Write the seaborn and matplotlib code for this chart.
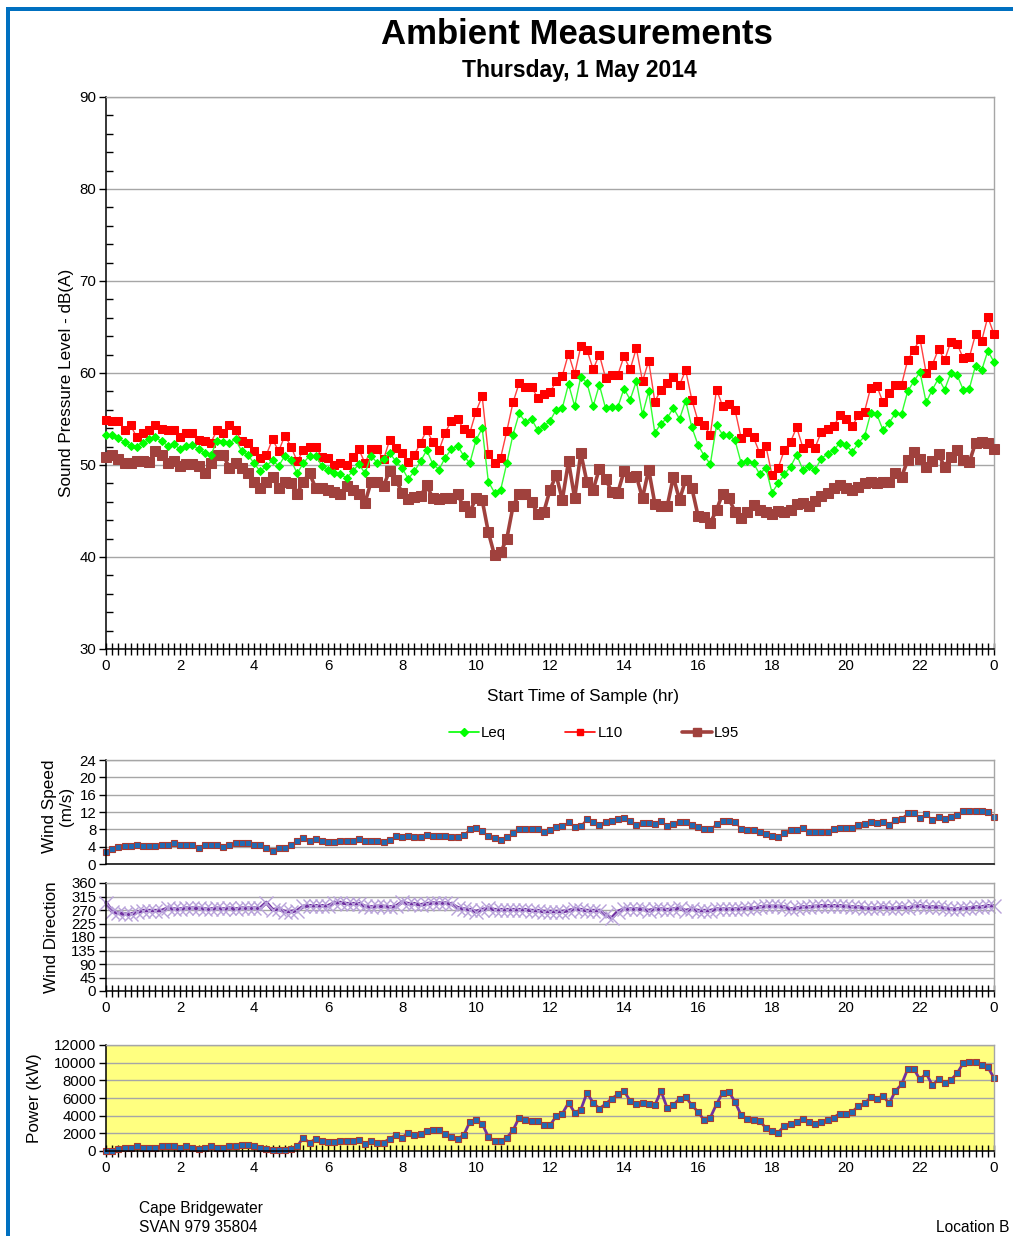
import numpy as np
import pandas as pd
import seaborn as sns
import matplotlib
matplotlib.use("Agg")
import matplotlib.pyplot as plt
from matplotlib.patches import Rectangle
from matplotlib.lines import Line2D
from matplotlib.ticker import FixedLocator, MultipleLocator

sns.set_theme(style="white")
plt.rcParams["font.family"] = ["Liberation Sans", "DejaVu Sans"]
plt.rcParams["text.color"] = "black"
plt.rcParams["axes.labelcolor"] = "black"
plt.rcParams["xtick.color"] = "black"
plt.rcParams["ytick.color"] = "black"

# ---------------- data (10-minute samples, 0:00 .. 24:00) ----------------
hours = np.arange(145) / 6.0
x_tick_pos = list(range(0, 25, 2))
x_tick_labels = ["0", "2", "4", "6", "8", "10", "12", "14", "16", "18", "20", "22", "0"]

leq = [53.3, 53.3, 52.9, 52.5, 52.1, 52.0, 52.4, 52.8, 53.0, 52.6,
       52.1, 52.3, 51.7, 52.1, 52.2, 51.7, 51.3, 51.1, 52.6, 52.5,
       52.4, 52.8, 51.5, 51.1, 50.2, 49.3, 49.9, 50.5, 49.9, 51.0,
       50.5, 49.1, 50.2, 51.0, 51.0, 49.9, 49.5, 49.1, 49.0, 48.6,
       49.3, 50.1, 49.1, 51.0, 50.2, 50.6, 51.3, 50.4, 49.7, 48.5,
       49.3, 50.4, 51.6, 50.1, 49.5, 50.8, 51.7, 52.1, 51.0, 50.2,
       52.7, 54.0, 48.2, 47.0, 47.3, 50.2, 53.3, 55.6, 54.7, 55.0,
       53.8, 54.2, 54.8, 56.0, 56.2, 58.8, 56.4, 59.6, 58.9, 56.4,
       58.7, 56.2, 56.3, 56.3, 58.3, 57.1, 59.1, 55.5, 58.0, 53.5,
       54.5, 55.1, 56.2, 55.0, 57.0, 54.1, 52.2, 51.0, 50.1, 54.3,
       53.3, 53.3, 52.7, 50.2, 50.4, 50.2, 49.0, 49.7, 47.0, 48.0,
       49.0, 49.8, 51.1, 49.5, 49.9, 49.5, 50.7, 51.2, 51.6, 52.4,
       52.2, 51.4, 52.4, 53.1, 55.6, 55.5, 53.8, 54.6, 55.6, 55.5,
       58.0, 59.1, 60.1, 56.8, 58.2, 59.4, 58.2, 60.0, 59.8, 58.2,
       58.3, 60.8, 60.3, 62.4, 61.2]

l10 = [54.9, 54.8, 54.8, 53.8, 54.3, 53.0, 53.5, 53.8, 54.3, 53.9,
       53.8, 53.8, 53.0, 53.5, 53.5, 52.7, 52.6, 52.4, 53.8, 53.5,
       54.3, 53.8, 52.6, 52.4, 51.5, 50.8, 51.1, 52.8, 51.5, 53.2,
       52.0, 50.4, 51.6, 52.0, 52.0, 50.9, 50.8, 50.0, 50.2, 50.0,
       50.9, 51.7, 50.2, 51.7, 51.7, 50.6, 52.7, 51.8, 51.3, 50.3,
       51.1, 52.4, 53.8, 52.5, 51.6, 53.5, 54.8, 55.0, 53.9, 53.5,
       55.8, 57.5, 51.2, 50.2, 50.8, 53.7, 56.8, 58.9, 58.5, 58.5,
       57.3, 57.7, 57.9, 59.1, 59.7, 62.1, 59.9, 62.9, 62.5, 60.4,
       62.0, 59.5, 59.8, 59.8, 61.8, 60.4, 62.7, 59.1, 61.3, 56.9,
       58.2, 58.9, 59.6, 58.7, 60.3, 57.1, 54.8, 54.3, 53.3, 58.2,
       56.4, 56.6, 56.0, 52.9, 53.6, 53.0, 51.3, 52.1, 48.9, 49.7,
       51.6, 52.5, 54.1, 51.9, 52.4, 51.9, 53.6, 53.9, 54.2, 55.4,
       55.0, 54.2, 55.4, 55.8, 58.4, 58.6, 56.8, 57.8, 58.7, 58.7,
       61.4, 62.5, 63.7, 60.0, 60.9, 62.6, 61.4, 63.4, 63.2, 61.6,
       61.7, 64.2, 63.5, 66.1, 64.2]

l95 = [50.9, 51.1, 50.6, 50.2, 50.2, 50.4, 50.4, 50.3, 51.5, 51.1,
       50.2, 50.4, 49.9, 50.1, 50.1, 49.9, 49.1, 50.2, 51.1, 51.1,
       49.7, 50.2, 49.7, 49.1, 48.2, 47.5, 48.2, 48.7, 47.5, 48.2,
       48.0, 46.9, 48.2, 49.1, 47.5, 47.5, 47.3, 47.1, 46.9, 47.7,
       47.3, 46.8, 45.9, 48.2, 48.2, 47.7, 49.4, 48.4, 47.0, 46.3,
       46.5, 46.6, 47.8, 46.4, 46.3, 46.4, 46.4, 46.8, 45.5, 44.9,
       46.4, 46.2, 42.7, 40.2, 40.5, 42.0, 45.5, 46.9, 46.9, 46.0,
       44.7, 44.9, 47.3, 48.9, 46.2, 50.4, 46.4, 51.3, 48.1, 47.3,
       49.6, 48.5, 47.1, 47.0, 49.3, 48.7, 48.8, 46.4, 49.5, 45.8,
       45.5, 45.5, 48.7, 46.2, 48.4, 47.5, 44.5, 44.4, 43.7, 45.1,
       46.9, 46.4, 44.9, 44.2, 44.9, 45.7, 45.1, 44.9, 44.7, 45.0,
       44.9, 45.1, 45.8, 45.9, 45.5, 46.1, 46.6, 47.0, 47.5, 47.8,
       47.5, 47.3, 47.6, 48.0, 48.2, 48.0, 48.2, 48.2, 49.1, 48.7,
       50.5, 51.4, 50.7, 49.8, 50.4, 51.2, 49.8, 50.9, 51.6, 50.5,
       50.3, 52.4, 52.5, 52.4, 51.7]

wind_speed = [2.8, 3.4, 4.0, 4.2, 4.2, 4.4, 4.2, 4.2, 4.2, 4.4,
              4.4, 4.8, 4.4, 4.4, 4.4, 3.6, 4.4, 4.4, 4.4, 4.0,
              4.4, 4.8, 4.8, 4.8, 4.4, 4.4, 3.8, 3.1, 3.6, 3.6,
              4.4, 5.2, 6.1, 5.4, 5.7, 5.4, 5.0, 5.0, 5.4, 5.4,
              5.4, 5.7, 5.4, 5.4, 5.4, 5.0, 5.5, 6.5, 6.2, 6.5,
              6.2, 6.2, 6.7, 6.5, 6.5, 6.5, 6.2, 6.2, 6.7, 8.0,
              8.4, 7.6, 6.5, 5.9, 5.5, 6.2, 7.1, 8.1, 8.1, 8.1,
              8.1, 7.5, 7.8, 8.6, 8.8, 9.6, 8.6, 8.8, 10.4, 9.8,
              9.1, 9.8, 10.0, 10.3, 10.7, 10.0, 9.0, 9.5, 9.5, 9.2,
              10.0, 8.8, 9.2, 9.8, 9.8, 9.0, 8.5, 8.0, 8.0, 9.2,
              10.0, 10.0, 9.6, 8.1, 7.8, 7.8, 7.5, 6.9, 6.5, 6.2,
              7.2, 7.8, 7.8, 8.2, 7.5, 7.5, 7.5, 7.5, 8.0, 8.4,
              8.4, 8.4, 9.0, 9.2, 9.8, 9.5, 9.8, 9.0, 10.2, 10.5,
              11.7, 11.7, 10.7, 11.5, 10.2, 10.8, 10.5, 10.8, 11.3, 12.2,
              12.2, 12.2, 12.2, 11.9, 10.9]

wind_dir = [295, 265, 259, 256, 256, 262, 268, 268, 268, 268,
            276, 273, 273, 276, 276, 276, 273, 273, 276, 273,
            276, 273, 276, 276, 276, 276, 295, 271, 273, 265,
            265, 268, 282, 284, 284, 284, 284, 293, 295, 291,
            291, 291, 282, 280, 282, 282, 280, 282, 296, 291,
            291, 287, 291, 293, 293, 293, 290, 278, 273, 271,
            265, 271, 276, 271, 271, 271, 271, 271, 271, 268,
            268, 265, 265, 265, 265, 268, 273, 271, 268, 268,
            268, 254, 243, 265, 273, 273, 273, 273, 268, 273,
            273, 271, 273, 276, 268, 273, 268, 268, 268, 273,
            273, 273, 273, 275, 276, 276, 280, 282, 282, 282,
            280, 273, 276, 280, 280, 282, 284, 284, 284, 284,
            282, 280, 280, 276, 276, 276, 280, 276, 276, 280,
            276, 282, 284, 280, 280, 280, 276, 273, 273, 276,
            276, 280, 280, 284, 284]

power = [0, 0, 190, 380, 380, 530, 380, 380, 380, 530,
         530, 530, 380, 530, 380, 265, 380, 530, 380, 380,
         530, 530, 640, 640, 530, 380, 265, 150, 150, 150,
         265, 530, 1510, 910, 1400, 1140, 1020, 1020, 1140, 1140,
         1140, 1290, 830, 1140, 950, 950, 1400, 1780, 1510, 2040,
         1780, 1970, 2270, 2420, 2420, 1890, 1590, 1400, 1780, 3290,
         3560, 3100, 1590, 1140, 1140, 1510, 2350, 3790, 3560, 3410,
         3410, 2910, 2910, 3940, 4240, 5450, 4350, 4690, 6590, 5450,
         4810, 5300, 5940, 6400, 6780, 5680, 5300, 5450, 5300, 5190,
         6780, 4880, 5190, 5940, 6130, 5190, 4430, 3480, 3790, 5300,
         6620, 6700, 5560, 4050, 3670, 3560, 3410, 2610, 2270, 2080,
         2840, 3100, 3290, 3670, 3290, 3100, 3290, 3480, 3790, 4240,
         4240, 4430, 5070, 5380, 6060, 5940, 6250, 5380, 6780, 7530,
         9270, 9270, 8100, 8780, 7460, 8100, 7720, 8030, 8780, 9920,
         10030, 10030, 9730, 9460, 8290]

df = pd.DataFrame({"hour": hours, "Leq": leq, "L10": l10, "L95": l95,
                   "ws": wind_speed, "wd": wind_dir, "pw": power})

# ---------------- figure ----------------
W, H = 1013, 1236
fig = plt.figure(figsize=(W / 100, H / 100), dpi=100)
fig.patch.set_facecolor("white")


def rect(l, t, r, b):
    return [l / W, 1 - b / H, (r - l) / W, (b - t) / H]


GRID = "#A6A6A6"
FS = 10.8
LFS = 12.3


def style_axis(ax, ymin, ymax, ystep, xticks=True):
    ax.set_xlim(0, 24)
    ax.set_ylim(ymin, ymax)
    for s in ["left", "bottom"]:
        ax.spines[s].set_color("black")
        ax.spines[s].set_linewidth(1.1)
    for s in ["top", "right"]:
        ax.spines[s].set_color(GRID)
        ax.spines[s].set_linewidth(1.0)
    ax.yaxis.set_major_locator(MultipleLocator(ystep))
    ax.grid(False)
    ax.yaxis.grid(True, color=GRID, linewidth=1.0)
    ax.set_axisbelow(True)
    ax.tick_params(axis="y", which="major", direction="out", length=5, width=1,
                   color="black", labelsize=FS, pad=2, left=True)
    if xticks:
        ax.xaxis.set_major_locator(FixedLocator(x_tick_pos))
        ax.set_xticklabels(x_tick_labels)
        ax.xaxis.set_minor_locator(FixedLocator(list(hours)))
        ax.tick_params(axis="x", which="both", direction="inout", length=9, width=1,
                       color="black", labelsize=FS, pad=3, bottom=True)
    else:
        ax.set_xticks([])
    ax.set_xlabel("")
    ax.set_ylabel("")


# ---- main sound-pressure chart ----
ax = fig.add_axes(rect(106, 97, 994, 649))
sns.lineplot(data=df, x="hour", y="L95", ax=ax, color="#A0413D", linewidth=2.6,
             marker="s", markersize=7.5, markeredgecolor="#A0413D", clip_on=False,
             label="L95", legend=False, zorder=3)
sns.lineplot(data=df, x="hour", y="L10", ax=ax, color="#FF4040", linewidth=1.0,
             marker="s", markersize=6, markerfacecolor="#FF0000", markeredgecolor="#FF0000",
             clip_on=False, label="L10", legend=False, zorder=4)
sns.lineplot(data=df, x="hour", y="Leq", ax=ax, color="#33FF33", linewidth=1.0,
             marker="D", markersize=4.5, markerfacecolor="#00FF00", markeredgecolor="#00FF00",
             clip_on=False, label="Leq", legend=False, zorder=5)
style_axis(ax, 30, 90, 10)
ax.yaxis.set_minor_locator(MultipleLocator(2))
ax.tick_params(axis="y", which="minor", direction="in", length=5, width=1, color="black", left=True)
ax.set_xlabel("Start Time of Sample (hr)", fontsize=LFS, ha="center", va="center")
ax.xaxis.set_label_coords((583 - 106) / 888, (649 - 697) / 552)
ax.set_ylabel("Sound Pressure Level - dB(A)", fontsize=LFS, ha="center", va="center")
ax.yaxis.set_label_coords((67 - 106) / 888, (649 - 383) / 552)

handles = [
    Line2D([], [], color="#00FF00", lw=1.2, marker="D", markersize=4.5),
    Line2D([], [], color="#FF0000", lw=1.2, marker="s", markersize=5),
    Line2D([], [], color="#A0413D", lw=2.6, marker="s", markersize=6),
]
fig.legend(handles, ["Leq", "L10", "L95"], loc="center", ncol=3, frameon=False,
           bbox_to_anchor=(594 / W, 1 - 733 / H), fontsize=FS, handlelength=2.0,
           handletextpad=0.15, columnspacing=3.95)

# ---- wind speed ----
ax2 = fig.add_axes(rect(106, 760, 994, 864))
sns.lineplot(data=df, x="hour", y="ws", ax=ax2, color="#A83A32", linewidth=1.2,
             marker="s", markersize=4.8, markerfacecolor="#1F6BB5", markeredgecolor="#A83A32",
             markeredgewidth=0.8, clip_on=False, legend=False)
style_axis(ax2, 0, 24, 4, xticks=False)
ax2.set_ylabel("Wind Speed\n(m/s)", fontsize=12.3, ha="center", va="center", linespacing=1.2)
ax2.yaxis.set_label_coords((58 - 106) / 888, (864 - 806) / 104)

# ---- wind direction ----
ax3 = fig.add_axes(rect(106, 883, 994, 991))
sns.lineplot(data=df, x="hour", y="wd", ax=ax3, color="#7030A0", linewidth=2.6,
             marker="x", markersize=10, markeredgecolor="#B8A2DA", markeredgewidth=1.0,
             clip_on=False, legend=False)
style_axis(ax3, 0, 360, 45)
ax3.set_ylabel("Wind Direction", fontsize=12.3, ha="center", va="center")
ax3.yaxis.set_label_coords((52 - 106) / 888, 0.5)

# ---- power ----
ax4 = fig.add_axes(rect(106, 1045, 994, 1151))
ax4.set_facecolor("#FFFF80")
sns.lineplot(data=df, x="hour", y="pw", ax=ax4, color="#7030A0", linewidth=2.0,
             marker="s", markersize=4.8, markerfacecolor="#1F6BB5", markeredgecolor="#A83A32",
             markeredgewidth=0.8, clip_on=False, legend=False)
style_axis(ax4, 0, 12000, 2000)
ax4.set_ylabel("Power (kW)", fontsize=12.3, ha="center", va="center")
ax4.yaxis.set_label_coords((35 - 106) / 888, 0.5)

# ---- titles and notes ----
fig.text(577 / W, 1 - 35 / H, "Ambient Measurements", fontsize=25, fontweight="bold",
         ha="center", va="center")
fig.text(579 / W, 1 - 71 / H, "Thursday, 1 May 2014", fontsize=16.5, fontweight="bold",
         ha="center", va="center")
fig.text(139 / W, 1 - 1208 / H, "Cape Bridgewater", fontsize=11.2, ha="left", va="center")
fig.text(139 / W, 1 - 1228 / H, "SVAN 979 35804", fontsize=11.2, ha="left", va="center")
fig.text(1009 / W, 1 - 1228 / H, "Location B", fontsize=11.2, ha="right", va="center")

# blue frame (top and left)
fig.add_artist(Rectangle((6 / W, 1 - 11 / H), 1 - 6 / W, 4 / H, transform=fig.transFigure,
                         facecolor="#0070C0", edgecolor="none"))
fig.add_artist(Rectangle((6 / W, 0), 4 / W, 1 - 7 / H, transform=fig.transFigure,
                         facecolor="#0070C0", edgecolor="none"))

fig.savefig("out.png", dpi=100)
